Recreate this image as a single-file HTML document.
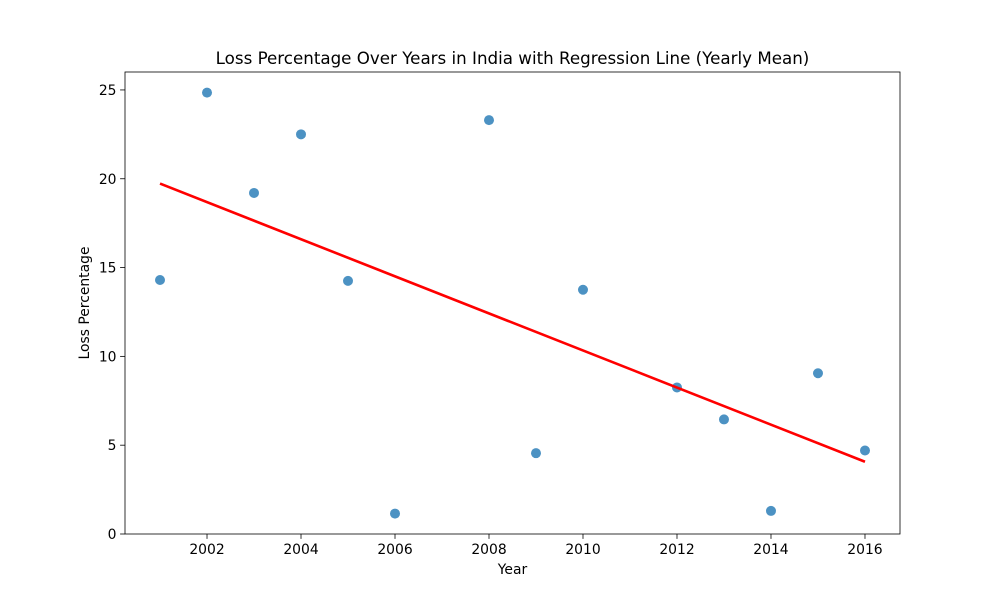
<!DOCTYPE html>
<html><head><meta charset="utf-8">
<style>
html,body{margin:0;padding:0;background:#fff;}
svg{display:block;font-family:"DejaVu Sans","Liberation Sans",sans-serif;}
</style></head>
<body>
<svg id="chart" width="1000" height="600"></svg>
<script>
const years = [2001,2002,2003,2004,2005,2006,2008,2009,2010,2012,2013,2014,2015,2016];
const lossValues = [14.3,24.85,19.2,22.5,14.25,1.15,23.3,4.55,13.75,8.25,6.45,1.3,9.05,4.7];
const xTicks = [2002,2004,2006,2008,2010,2012,2014,2016];
const yTicks = [0,5,10,15,20,25];

const NS="http://www.w3.org/2000/svg";
const svg=document.getElementById('chart');
const L=125,R=900,T=72,B=534;
const xMin=2000.255,xMax=2016.745,yMin=0,yMax=26.01;
const xs=v=>L+(v-xMin)/(xMax-xMin)*(R-L);
const ys=v=>B-(v-yMin)/(yMax-yMin)*(B-T);
function mk(tag,attrs,parent){const e=document.createElementNS(NS,tag);for(const k in attrs)e.setAttribute(k,attrs[k]);(parent||svg).appendChild(e);return e;}

const title=mk('text',{x:512.5,y:64,'text-anchor':'middle','font-size':16.7,fill:'#000'});


title.textContent='Loss Percentage Over Years in India with Regression Line (Yearly Mean)';

xTicks.forEach(t=>{
  const x=xs(t);
  const tk=mk('line',{x1:x,x2:x,y1:B,y2:B+4.9,stroke:'#000','stroke-width':0.8});
  
  
  const lb=mk('text',{x:x,y:B+20,'text-anchor':'middle','font-size':13.9,fill:'#000'});
  
  
  lb.textContent=t;
});
yTicks.forEach(t=>{
  const y=ys(t);
  const tk=mk('line',{x1:L-4.9,x2:L,y1:y,y2:y,stroke:'#000','stroke-width':0.8});
  
  
  const lb=mk('text',{x:L-8.5,y:y+5,'text-anchor':'end','font-size':13.9,fill:'#000'});
  
  
  lb.textContent=t;
});

const xt=mk('text',{x:512.5,y:574,'text-anchor':'middle','font-size':13.9,fill:'#000'});


xt.textContent='Year';
const yt=mk('text',{x:89,y:303,'text-anchor':'middle','font-size':13.9,fill:'#000',transform:'rotate(-90 89 303)'});


yt.textContent='Loss Percentage';

years.forEach((yr,i)=>{
  const c=mk('circle',{cx:xs(yr),cy:ys(lossValues[i]),r:5,fill:'#1f77b4','fill-opacity':0.8});
  
  
});

const n=years.length;
const mx=years.reduce((a,b)=>a+b,0)/n, my=lossValues.reduce((a,b)=>a+b,0)/n;
let sxy=0,sxx=0;
for(let i=0;i<n;i++){sxy+=(years[i]-mx)*(lossValues[i]-my);sxx+=(years[i]-mx)**2;}
const slope=sxy/sxx, icpt=my-slope*mx;
const x0=Math.min(...years),x1=Math.max(...years);
const rl=mk('line',{x1:xs(x0),y1:ys(icpt+slope*x0),x2:xs(x1),y2:ys(icpt+slope*x1),stroke:'#ff0000','stroke-width':2.6});



const fr=mk('rect',{x:L,y:T,width:R-L,height:B-T,fill:'none',stroke:'#000','stroke-width':0.8});


</script>
</body></html>
